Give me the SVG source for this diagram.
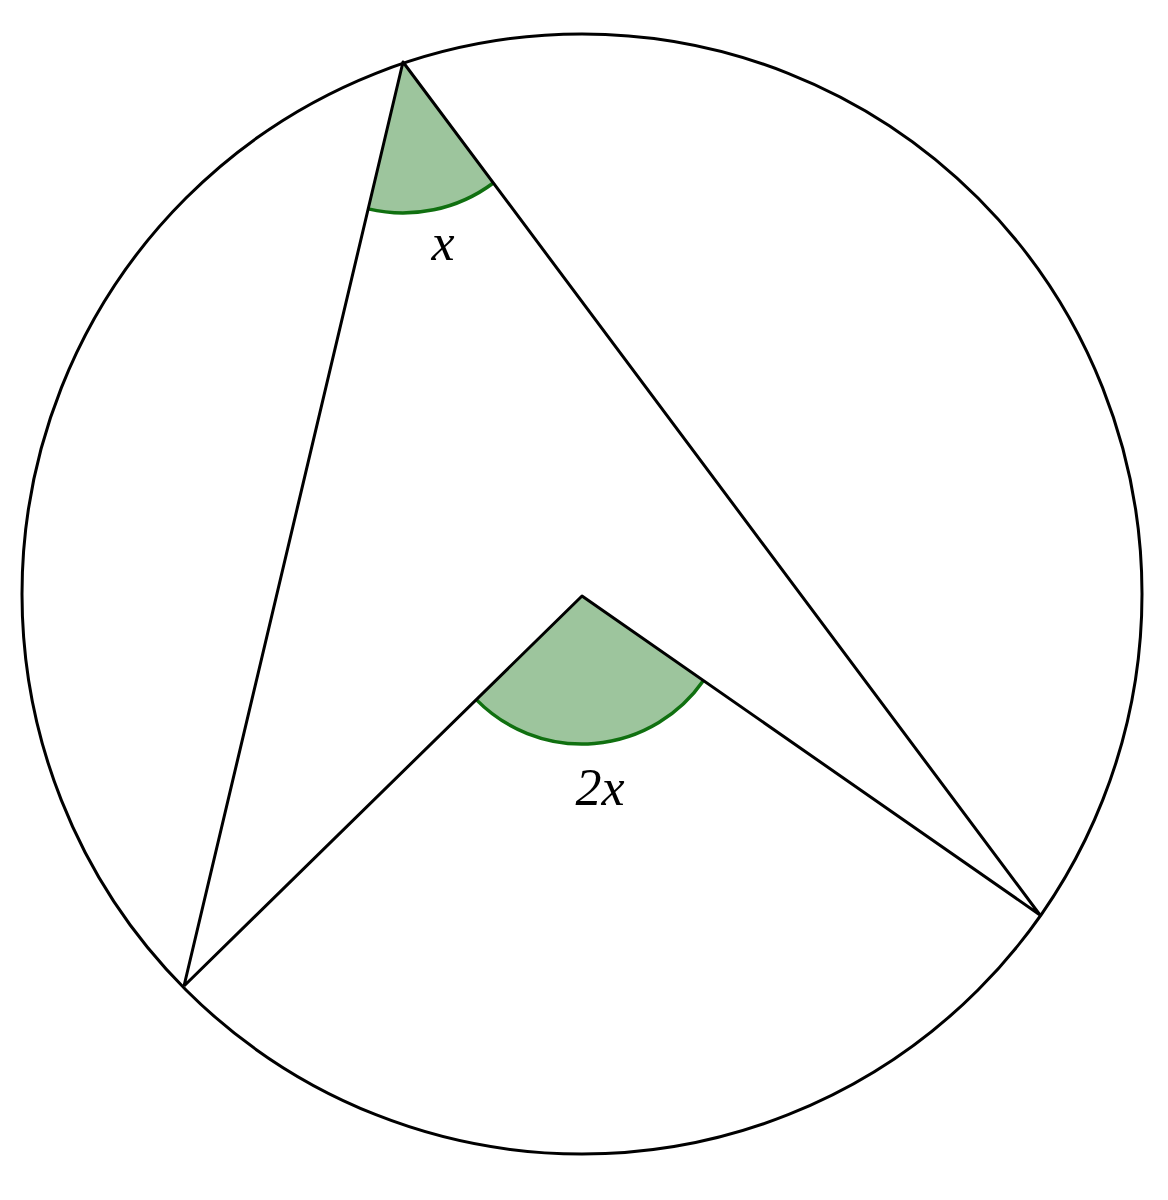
<svg xmlns="http://www.w3.org/2000/svg" width="1168" height="1200" viewBox="0 0 1168 1200">
<style>
.ln{stroke:#000;stroke-width:3;fill:none;stroke-linejoin:round}
.sec{fill:#9dc59d;stroke:none}
.arc{fill:none;stroke:#107010;stroke-width:3.5}
.lab{font-family:"Liberation Serif",serif;font-style:italic;font-size:52px;fill:#000}
</style>
<rect width="1168" height="1200" fill="#fff"/>
<g id="angleA">
<path class="sec" d="M403,62 L368.2,208.9 A151,151 0 0 0 493.3,183 Z"/>
<path class="arc" d="M368.2,208.9 A151,151 0 0 0 493.3,183"/>
</g>
<g id="angleO">
<path class="sec" d="M582,596 L476.3,699.6 A148,148 0 0 0 703.5,680.6 Z"/>
<path class="arc" d="M476.3,699.6 A148,148 0 0 0 703.5,680.6"/>
</g>
<g id="circle"><circle class="ln" cx="582" cy="594" r="560"/></g>
<g id="connectors">
<path class="ln" d="M184,986 L403,62 L1040,915 L582,596 L184,986"/>
</g>
<g id="labels">
<text class="lab" x="443" y="260" text-anchor="middle">x</text>
<text class="lab" x="600" y="805" text-anchor="middle">2x</text>
</g>
</svg>
